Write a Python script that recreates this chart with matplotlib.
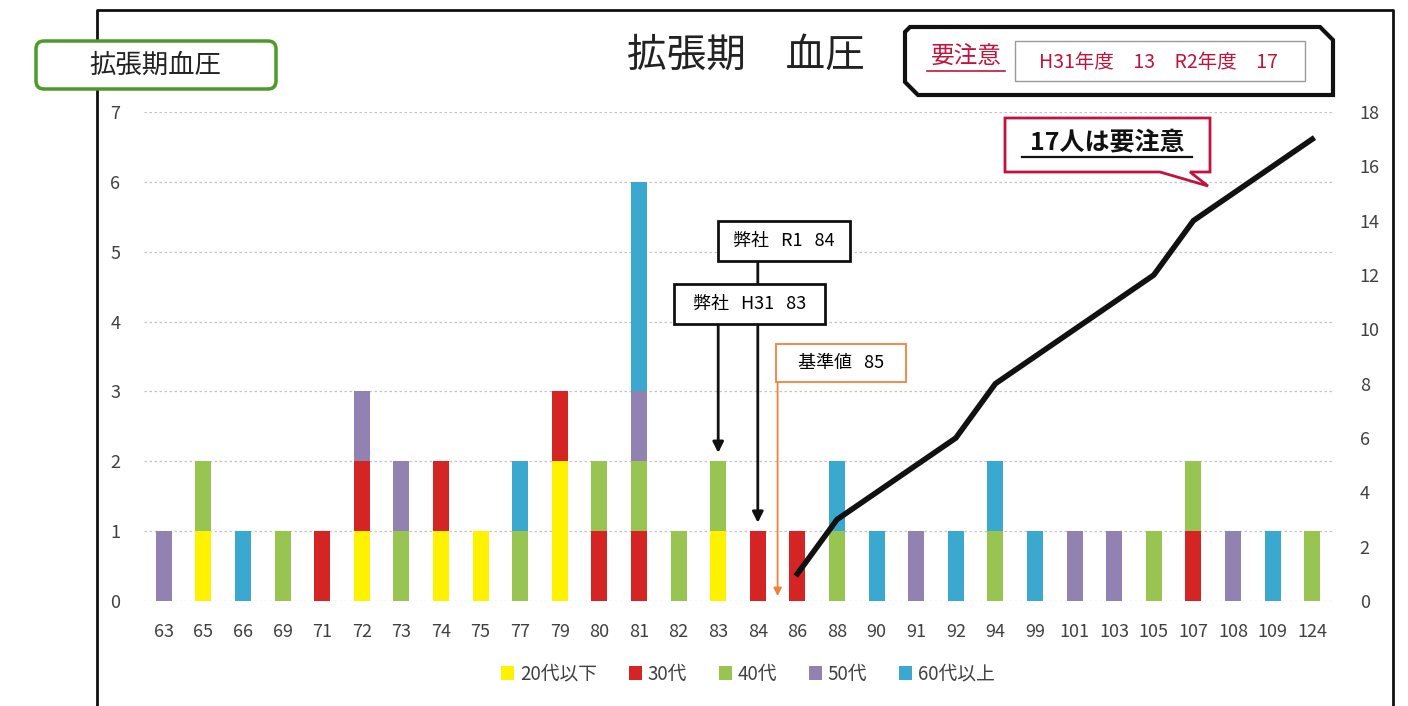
import matplotlib.pyplot as plt
import numpy as np
from matplotlib.patches import FancyBboxPatch, Polygon, Rectangle

plt.rcParams['font.family'] = ['Noto Sans CJK JP', 'DejaVu Sans']

# data
categories = ['63', '65', '66', '69', '71', '72', '73', '74', '75', '77', '79', '80', '81', '82', '83',
              '84', '86', '88', '90', '91', '92', '94', '99', '101', '103', '105', '107', '108', '109', '124']
age20 = [0, 1, 0, 0, 0, 1, 0, 1, 1, 0, 2, 0, 0, 0, 1, 0, 0, 0, 0, 0, 0, 0, 0, 0, 0, 0, 0, 0, 0, 0]
age30 = [0, 0, 0, 0, 1, 1, 0, 1, 0, 0, 1, 1, 1, 0, 0, 1, 1, 0, 0, 0, 0, 0, 0, 0, 0, 0, 1, 0, 0, 0]
age40 = [0, 1, 0, 1, 0, 0, 1, 0, 0, 1, 0, 1, 1, 1, 1, 0, 0, 1, 0, 0, 0, 1, 0, 0, 0, 1, 1, 0, 0, 1]
age50 = [1, 0, 0, 0, 0, 1, 1, 0, 0, 0, 0, 0, 1, 0, 0, 0, 0, 0, 0, 1, 0, 0, 0, 1, 1, 0, 0, 1, 0, 0]
age60 = [0, 0, 1, 0, 0, 0, 0, 0, 0, 1, 0, 0, 3, 0, 0, 0, 0, 1, 1, 0, 1, 1, 1, 0, 0, 0, 0, 0, 1, 0]
series_names = ['20代以下', '30代', '40代', '50代', '60代以上']
series_colors = ['#fff200', '#d42424', '#98c552', '#9282b2', '#3aa8cf']

# cumulative count of people above the standard (right axis)
line_cats = ['86', '88', '90', '91', '92', '94', '99', '101', '103', '105', '107', '108', '109', '124']
line_vals = [1, 3, 4, 5, 6, 8, 9, 10, 11, 12, 14, 15, 16, 17]

W, H = 1408, 706
fig = plt.figure(figsize=(W / 100, H / 100), dpi=100)
ax = fig.add_axes([144 / W, 1 - 601 / H, 1188 / W, 489 / H])

x = np.arange(len(categories))
bottom = np.zeros(len(categories))
handles = []
for vals, name, col in zip([age20, age30, age40, age50, age60], series_names, series_colors):
    b = ax.bar(x, vals, width=0.4, bottom=bottom, color=col, label=name, zorder=2)
    handles.append(b)
    bottom += np.array(vals)

ax.set_xlim(-0.5, len(categories) - 0.5)
ax.set_ylim(0, 7)
ax.set_yticks(range(0, 8))
ax.set_xticks(x)
ax.set_xticklabels(categories)
ax.grid(axis='y', color='#c4c4c4', linestyle=(0, (2, 2)), lw=0.9, zorder=0)
for s in ax.spines.values():
    s.set_visible(False)
ax.tick_params(axis='both', length=0, colors='#404040', labelsize=13)
ax.tick_params(axis='y', pad=17)
ax.tick_params(axis='x', pad=16)

ax2 = ax.twinx()
lx = [categories.index(c) for c in line_cats]
ax2.plot(lx, line_vals, color='#111111', lw=4, solid_joinstyle='miter', zorder=5)
ax2.set_ylim(0, 18)
ax2.set_yticks(range(0, 19, 2))
for s in ax2.spines.values():
    s.set_visible(False)
ax2.tick_params(axis='y', length=0, colors='#404040', labelsize=13, pad=20)

# annotation boxes and arrows
i83, i84 = categories.index('83'), categories.index('84')
ax.annotate('', xy=(i84, 1.08), xytext=(i84, 4.95),
            arrowprops=dict(arrowstyle='-|>', color='#111111', lw=2, mutation_scale=16), zorder=6)
ax.annotate('', xy=(i83, 2.08), xytext=(i83, 4.0),
            arrowprops=dict(arrowstyle='-|>', color='#111111', lw=2, mutation_scale=16), zorder=6)
ax.annotate('', xy=(i84 + 0.5, 0.03), xytext=(i84 + 0.5, 3.17),
            arrowprops=dict(arrowstyle='-|>', color='#f0823a', lw=1.3, mutation_scale=12), zorder=6)

box_k = dict(boxstyle='square,pad=0.6', fc='white', ec='#111111', lw=2)
ax.text(15.66, 5.15, ' 弊社   R1   84 ', ha='center', va='center', fontsize=13,
        bbox=box_k, zorder=7)
ax.text(14.80, 4.25, '  弊社   H31   83  ', ha='center', va='center', fontsize=13,
        bbox=box_k, zorder=8)
ax.text(17.1, 3.41, '   基準値   85   ', ha='center', va='center', fontsize=13,
        bbox=dict(boxstyle='square,pad=0.55', fc='white', ec='#f0823a', lw=1.3), zorder=7)

ax.legend(handles=handles, loc='center', bbox_to_anchor=(748 / W, 1 - 674 / H),
          bbox_transform=fig.transFigure, ncol=5, frameon=False, fontsize=13.5,
          handlelength=0.7, handleheight=0.7, handletextpad=0.3, columnspacing=1.7,
          labelcolor='#404040')

# decorations in pixel coordinates
ov = fig.add_axes([0, 0, 1, 1], zorder=10)
ov.set_xlim(0, W)
ov.set_ylim(H, 0)
ov.axis('off')
ov.patch.set_alpha(0)

ov.plot([97, 97, 1393, 1393], [H + 5, 10, 10, H + 5], color='#111111', lw=2, zorder=1)

ov.add_patch(FancyBboxPatch((36, 41), 240, 48, boxstyle='round,pad=0,rounding_size=8',
                            fc='white', ec='#4c9a2a', lw=2.5, zorder=3))
ov.text(155, 65, '拡張期血圧', ha='center', va='center', fontsize=19, color='#222222', zorder=4)

ov.text(746, 56, '拡張期　血圧', ha='center', va='center', fontsize=28.5, color='#222222')

ov.add_patch(Polygon([(910, 27), (1320, 27), (1333, 40), (1333, 95), (918, 95), (905, 82), (905, 32)],
                     closed=True, fc='white', ec='#111111', lw=3, zorder=3))
ov.text(966, 57, '要注意', ha='center', va='center', fontsize=17, color='#c0143c', zorder=4)
ov.plot([927, 1005], [71, 71], color='#c0143c', lw=1.2, zorder=4)
ov.add_patch(Rectangle((1015, 41), 290, 40, fc='white', ec='#9a9a9a', lw=1, zorder=4))
ov.text(1158, 62, 'H31年度　13　R2年度　17', ha='center', va='center', fontsize=14,
        color='#c0143c', zorder=5)

ov.add_patch(Polygon([(1005, 118), (1210, 118), (1210, 172), (1190, 172), (1208, 186),
                      (1160, 172), (1005, 172)], closed=True, fc='white', ec='#c0143c', lw=2, zorder=3))
ov.text(1107, 142, '17人は要注意', ha='center', va='center', fontsize=18, fontweight='bold',
        color='#111111', zorder=4)
ov.plot([1022, 1192], [157, 157], color='#111111', lw=1.6, zorder=4)

fig.savefig('out.png', dpi=100, facecolor='white')
